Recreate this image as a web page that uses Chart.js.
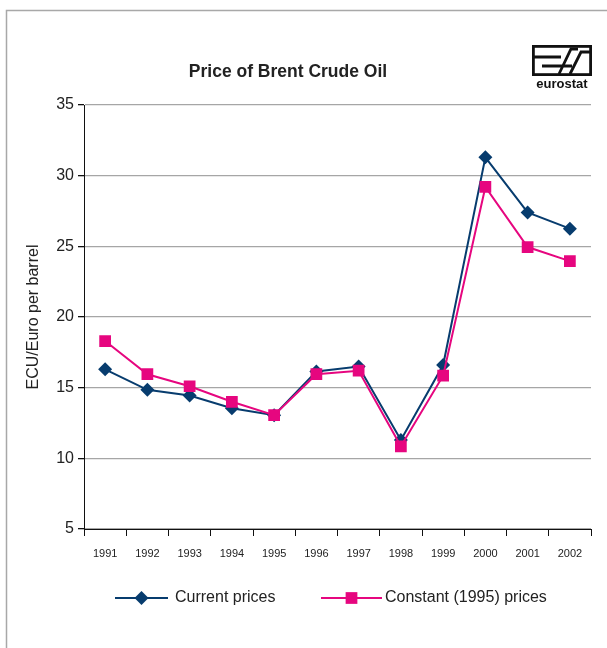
<!DOCTYPE html>
<html>
<head>
<meta charset="utf-8">
<script src="https://cdn.jsdelivr.net/npm/chart.js@4/dist/chart.umd.min.js"></script>
<style>
  html, body { margin: 0; padding: 0; background: #fff; }
  canvas { display: block; }
</style>
</head>
<body>
<canvas id="chart" width="607" height="648"></canvas>
<script>
const years = ['1991', '1992', '1993', '1994', '1995', '1996', '1997', '1998', '1999', '2000', '2001', '2002'];
const currentPrices = [16.3, 14.85, 14.45, 13.55, 13.05, 16.15, 16.5, 11.3, 16.6, 31.3, 27.4, 26.25];
const constantPrices = [18.3, 15.95, 15.1, 14.0, 13.05, 15.95, 16.2, 10.85, 15.85, 29.2, 24.95, 23.95];
const yTicks = [5, 10, 15, 20, 25, 30, 35];

const navy = '#073c6e';
const pink = '#e6067f';
const font = 'Liberation Sans, Arial, sans-serif';

// frame, title, logo and legend drawn around the chart
const decorPlugin = {
    id: 'decor',
    afterDraw(chart) {
        const ctx = chart.ctx;
        ctx.save();

        // outer frame (top + left only visible)
        ctx.strokeStyle = '#a8a8a8';
        ctx.lineWidth = 1.5;
        ctx.beginPath();
        ctx.moveTo(6.5, 648);
        ctx.lineTo(6.5, 10.5);
        ctx.lineTo(607, 10.5);
        ctx.stroke();

        // title
        ctx.fillStyle = '#222';
        ctx.font = 'bold 17.5px ' + font;
        ctx.textAlign = 'center';
        ctx.textBaseline = 'middle';
        ctx.fillText('Price of Brent Crude Oil', 288, 72);

        // eurostat logo
        const lx = 532, ly = 45, lw = 60, lh = 31;
        ctx.strokeStyle = '#111';
        ctx.lineWidth = 2.8;
        ctx.strokeRect(lx + 1.4, ly + 1.4, lw - 2.8, lh - 2.8);
        ctx.lineWidth = 2.8;
        ctx.lineJoin = 'miter';
        ctx.beginPath();
        ctx.moveTo(lx, ly + 12); ctx.lineTo(lx + 29, ly + 12);
        ctx.moveTo(lx + 10, ly + 21); ctx.lineTo(lx + 31, ly + 21);
        ctx.moveTo(lx + 27, ly + 29); ctx.lineTo(lx + 39, ly + 4);
        ctx.lineTo(lx + 46, ly + 4);
        ctx.moveTo(lx + 31, ly + 21); ctx.lineTo(lx + 40, ly + 21);
        ctx.moveTo(lx + 38, ly + 29); ctx.lineTo(lx + 49, ly + 7);
        ctx.lineTo(lx + 58, ly + 7);
        ctx.stroke();
        ctx.fillStyle = '#111';
        ctx.font = 'bold 13px ' + font;
        ctx.fillText('eurostat', lx + lw / 2, ly + 39);

        // legend
        const items = [
            { ds: chart.data.datasets[0], x1: 115, x2: 168, tx: 175 },
            { ds: chart.data.datasets[1], x1: 321, x2: 382, tx: 385 }
        ];
        const ly2 = 598;
        items.forEach(it => {
            ctx.strokeStyle = it.ds.borderColor;
            ctx.lineWidth = 2;
            ctx.beginPath();
            ctx.moveTo(it.x1, ly2);
            ctx.lineTo(it.x2, ly2);
            ctx.stroke();
            ctx.fillStyle = it.ds.pointBackgroundColor;
            Chart.helpers.drawPoint(ctx, {
                pointStyle: it.ds.pointStyle,
                radius: it.ds.pointRadius,
                rotation: 0,
                borderWidth: 0
            }, (it.x1 + it.x2) / 2, ly2);
            ctx.fillStyle = '#222';
            ctx.font = '16px ' + font;
            ctx.textAlign = 'left';
            ctx.textBaseline = 'middle';
            ctx.fillText(it.ds.label, it.tx, ly2);
        });

        ctx.restore();
    }
};

new Chart(document.getElementById('chart'), {
    type: 'line',
    data: {
        labels: years,
        datasets: [
            {
                label: 'Current prices',
                data: currentPrices,
                borderColor: navy,
                backgroundColor: navy,
                pointBackgroundColor: navy,
                pointBorderWidth: 0,
                pointStyle: 'rectRot',
                pointRadius: 7,
                borderWidth: 2,
                tension: 0,
                order: 1
            },
            {
                label: 'Constant (1995) prices',
                data: constantPrices,
                borderColor: pink,
                backgroundColor: pink,
                pointBackgroundColor: pink,
                pointBorderWidth: 0,
                pointStyle: 'rect',
                pointRadius: 8.3,
                borderWidth: 2,
                tension: 0,
                order: 0
            }
        ]
    },
    options: {
        responsive: false,
        animation: false,
        events: [],
        layout: { padding: { left: 20, right: 16, top: 105, bottom: 79 } },
        plugins: {
            legend: { display: false },
            tooltip: { enabled: false }
        },
        scales: {
            x: {
                offset: true,
                grid: {
                    offset: true,
                    drawOnChartArea: false,
                    tickLength: 7,
                    tickColor: '#111'
                },
                border: { color: '#111', width: 1 },
                ticks: {
                    color: '#222',
                    font: { family: font, size: 11 },
                    padding: 11,
                    maxRotation: 0,
                    autoSkip: false
                },
                afterFit(scale) { scale.height = 40; }
            },
            y: {
                min: 5,
                max: 35,
                afterBuildTicks(scale) { scale.ticks = yTicks.map(v => ({ value: v })); },
                grid: {
                    color: '#a6a6a6',
                    lineWidth: 1.3,
                    tickLength: 6,
                    tickColor: '#111'
                },
                border: { color: '#111', width: 1 },
                ticks: {
                    color: '#222',
                    font: { family: font, size: 16 },
                    padding: 4
                },
                title: {
                    display: true,
                    text: 'ECU/Euro per barrel',
                    color: '#222',
                    font: { family: font, size: 16 }
                },
                afterFit(scale) { scale.width = 64; }
            }
        }
    },
    plugins: [decorPlugin]
});
</script>
</body>
</html>
